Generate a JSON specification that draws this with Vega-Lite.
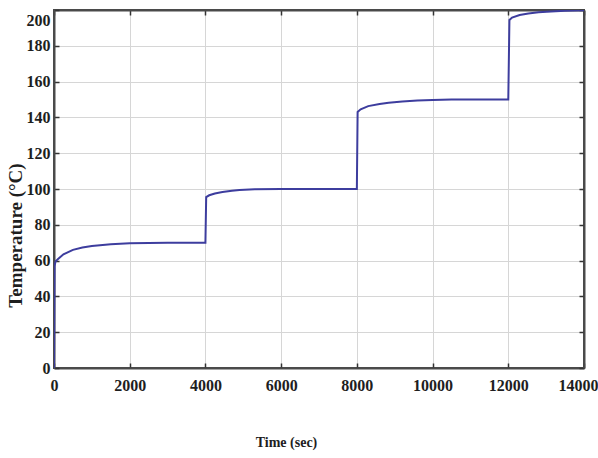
{
  "$schema": "https://vega.github.io/schema/vega-lite/v6.json",
  "width": 530,
  "height": 358,
  "autosize": {"type": "none"},
  "padding": {"left": 54, "top": 10, "right": 14, "bottom": 90},
  "background": "white",
  "config": {
    "view": {"stroke": "#4a4a4a", "strokeWidth": 2},
    "axis": {
      "labelFont": "Liberation Serif",
      "labelFontWeight": "bold",
      "labelFontSize": 16,
      "labelColor": "#1e1e1e",
      "titleFont": "Liberation Serif",
      "titleFontWeight": "bold",
      "titleColor": "#1e1e1e",
      "gridColor": "#d6d6d6",
      "gridWidth": 1,
      "domainColor": "#4a4a4a",
      "domainWidth": 2,
      "ticks": true,
      "tickSize": -5,
      "tickColor": "#333333",
      "tickWidth": 1.5
    }
  },
  "data": {
    "values": [
      {"t": 0, "temp": 0},
      {"t": 15, "temp": 57},
      {"t": 40, "temp": 59.5},
      {"t": 100, "temp": 60.8},
      {"t": 250, "temp": 63.5},
      {"t": 500, "temp": 66},
      {"t": 750, "temp": 67.3},
      {"t": 1000, "temp": 68.2},
      {"t": 1500, "temp": 69.2},
      {"t": 2000, "temp": 69.7},
      {"t": 2500, "temp": 69.9},
      {"t": 3000, "temp": 70},
      {"t": 4000, "temp": 70},
      {"t": 4020, "temp": 95.5},
      {"t": 4100, "temp": 96.5},
      {"t": 4250, "temp": 97.5},
      {"t": 4450, "temp": 98.3},
      {"t": 4700, "temp": 99},
      {"t": 4900, "temp": 99.4},
      {"t": 5300, "temp": 99.8},
      {"t": 6000, "temp": 100},
      {"t": 8000, "temp": 100},
      {"t": 8020, "temp": 143},
      {"t": 8100, "temp": 144.5},
      {"t": 8300, "temp": 146.3},
      {"t": 8600, "temp": 147.5},
      {"t": 8840, "temp": 148.2},
      {"t": 9200, "temp": 148.9},
      {"t": 9600, "temp": 149.4},
      {"t": 10000, "temp": 149.7},
      {"t": 10500, "temp": 150},
      {"t": 12000, "temp": 150},
      {"t": 12030, "temp": 194.4},
      {"t": 12100, "temp": 195.8},
      {"t": 12300, "temp": 197.2},
      {"t": 12530, "temp": 198},
      {"t": 12800, "temp": 198.7},
      {"t": 13130, "temp": 199.2},
      {"t": 13500, "temp": 199.6},
      {"t": 14000, "temp": 199.9}
    ]
  },
  "layer": [
    {
      "mark": {"type": "line", "color": "#3d3d9e", "strokeWidth": 2, "clip": true},
      "encoding": {
        "x": {
          "field": "t",
          "type": "quantitative",
          "scale": {"domain": [0, 14000], "nice": false},
          "axis": {
            "values": [0, 2000, 4000, 6000, 8000, 10000, 12000, 14000],
            "format": "d",
            "title": "Time (sec)",
            "titleFontSize": 14,
            "titleX": 232,
            "titleY": 74,
            "titleBaseline": "middle",
            "titleAlign": "center",
            "labelPadding": 14,
            "labelFlush": false,
            "labelOffset": {"condition": {"test": "datum.value == 14000", "value": -6}, "value": 0}
          }
        },
        "y": {
          "field": "temp",
          "type": "quantitative",
          "scale": {"domain": [0, 200], "nice": false},
          "axis": {
            "values": [0, 20, 40, 60, 80, 100, 120, 140, 160, 180, 200],
            "title": "Temperature (°C)",
            "titleFontSize": 19,
            "titleX": -39,
            "titleY": 225,
            "titleAngle": -90,
            "titleBaseline": "middle",
            "titleAlign": "center",
            "labelPadding": 9,
            "labelFlush": false,
            "labelOffset": {"condition": {"test": "datum.value == 200", "value": 10}, "value": 0}
          }
        }
      }
    },
    {
      "mark": {"type": "line", "opacity": 0},
      "encoding": {
        "x": {
          "field": "t",
          "type": "quantitative",
          "axis": {"orient": "top", "values": [0, 2000, 4000, 6000, 8000, 10000, 12000, 14000], "labels": false, "grid": false, "title": null}
        },
        "y": {
          "field": "temp",
          "type": "quantitative",
          "axis": {"orient": "right", "values": [0, 20, 40, 60, 80, 100, 120, 140, 160, 180, 200], "labels": false, "grid": false, "title": null}
        }
      }
    }
  ],
  "resolve": {"axis": {"x": "independent", "y": "independent"}}
}
